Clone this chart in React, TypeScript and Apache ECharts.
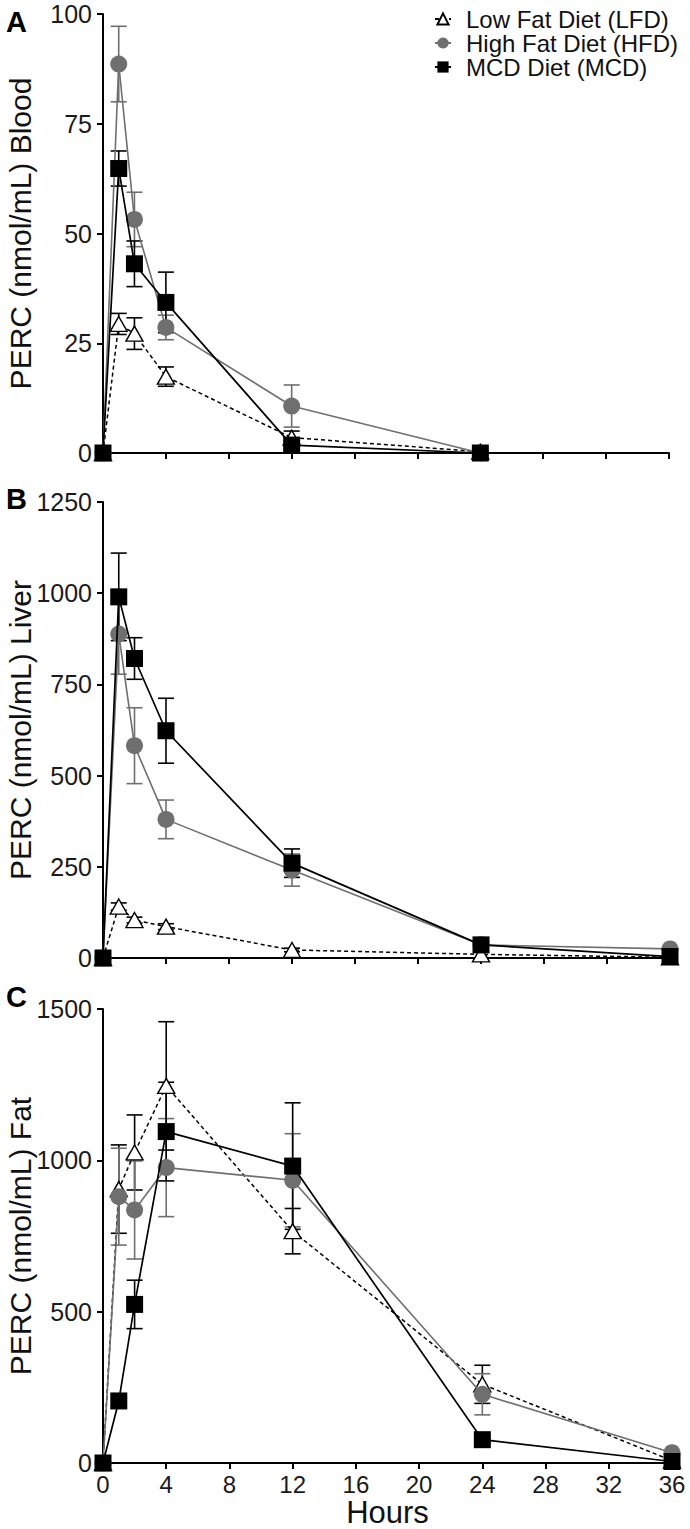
import React, { useEffect, useRef } from "react";
import * as echarts from "echarts";

const HOURS_BLOOD = [0, 1, 2, 4, 12, 24];
const HOURS = [0, 1, 2, 4, 12, 24, 36];

const SERIES_NAMES = ["Low Fat Diet (LFD)", "High Fat Diet (HFD)", "MCD Diet (MCD)"];

// Panel A: Blood
const BLOOD_LFD = [0, 29.4, 27.2, 17.4, 3.5, 0.3];
const BLOOD_LFD_ERR = [0, 2.4, 3.6, 2.2, 1.5, 0];
const BLOOD_HFD = [0, 88.6, 53.2, 28.6, 10.7, 0];
const BLOOD_HFD_ERR = [0, 8.6, 6.2, 2.8, 4.8, 0];
const BLOOD_MCD = [0, 64.8, 43.1, 34.3, 1.8, 0];
const BLOOD_MCD_ERR = [0, 4.0, 5.2, 6.9, 1.0, 0];

// Panel B: Liver
const LIVER_LFD = [0, 141, 104, 86, 22, 10, 2];
const LIVER_LFD_ERR = [0, 10, 8, 8, 5, 0, 0];
const LIVER_HFD = [0, 888, 582, 380, 241, 36, 25];
const LIVER_HFD_ERR = [0, 110, 104, 53, 44, 5, 0];
const LIVER_MCD = [0, 990, 821, 623, 260, 36, 4];
const LIVER_MCD_ERR = [0, 120, 57, 89, 39, 5, 0];

// Panel C: Fat
const FAT_LFD = [0, 905, 1026, 1246, 766, 260, 8];
const FAT_LFD_ERR = [0, 146, 124, 212, 75, 63, 0];
const FAT_HFD = [0, 880, 836, 976, 934, 227, 34];
const FAT_HFD_ERR = [0, 160, 162, 162, 154, 68, 0];
const FAT_MCD = [0, 205, 524, 1095, 981, 77, 5];
const FAT_MCD_ERR = [0, 20, 80, 163, 209, 10, 0];

const FONT = "'Liberation Sans', Arial, Helvetica, sans-serif";
const GRAY = "#6f6f6f";
const BLACK = "#000000";

function pairs(xs: number[], ys: number[]) {
  return xs.map((x, i) => [x, ys[i]]);
}

function errData(xs: number[], ys: number[], es: number[]) {
  const out: number[][] = [];
  xs.forEach((x, i) => {
    if (es[i] > 0) out.push([x, ys[i] - es[i], ys[i] + es[i]]);
  });
  return out;
}

function errSeries(idx: number, xs: number[], ys: number[], es: number[], color: string) {
  return {
    type: "custom",
    xAxisIndex: idx,
    yAxisIndex: idx,
    z: 1,
    silent: true,
    data: errData(xs, ys, es),
    encode: { x: 0, y: [1, 2] },
    renderItem: (params: any, api: any) => {
      const x = api.value(0);
      const lo = api.coord([x, api.value(1)]);
      const hi = api.coord([x, api.value(2)]);
      const cw = 8;
      const style = { stroke: color, lineWidth: 1.6 };
      return {
        type: "group",
        children: [
          { type: "line", shape: { x1: lo[0], y1: lo[1], x2: hi[0], y2: hi[1] }, style },
          { type: "line", shape: { x1: lo[0] - cw, y1: lo[1], x2: lo[0] + cw, y2: lo[1] }, style },
          { type: "line", shape: { x1: hi[0] - cw, y1: hi[1], x2: hi[0] + cw, y2: hi[1] }, style },
        ],
      };
    },
  };
}

function lineSeries(idx: number, kind: number, xs: number[], ys: number[]) {
  const base: any = {
    type: "line",
    name: SERIES_NAMES[kind],
    xAxisIndex: idx,
    yAxisIndex: idx,
    data: pairs(xs, ys),
    z: 2 + kind,
    showSymbol: true,
  };
  if (kind === 0) {
    base.symbol = "triangle";
    base.symbolSize = [17, 15];
    base.itemStyle = { color: "#ffffff", borderColor: BLACK, borderWidth: 1.4 };
    base.lineStyle = { color: BLACK, width: 1.5, type: [4, 3] };
  } else if (kind === 1) {
    base.symbol = "circle";
    base.symbolSize = 17;
    base.itemStyle = { color: GRAY, borderColor: GRAY, borderWidth: 0 };
    base.lineStyle = { color: GRAY, width: 1.6 };
  } else {
    base.symbol = "rect";
    base.symbolSize = 17;
    base.itemStyle = { color: BLACK, borderColor: BLACK, borderWidth: 0 };
    base.lineStyle = { color: BLACK, width: 1.7 };
  }
  return base;
}

const GRIDS = [
  { left: 103, width: 566, top: 14, height: 439 },
  { left: 103, width: 567, top: 502, height: 456 },
  { left: 103, width: 569, top: 1009, height: 454 },
];

export default function App() {
  const ref = useRef<HTMLDivElement>(null);

  useEffect(() => {
    if (!ref.current) return;
    const chart = echarts.init(ref.current, null, { renderer: "svg" });

    const axisLine = { show: true, onZero: false, lineStyle: { color: BLACK, width: 2 } };
    const axisTick = { show: true, inside: false, length: 6, lineStyle: { color: BLACK, width: 2 } };
    const yLabel = {
      fontSize: 25,
      color: "#1a1a1a",
      fontFamily: FONT,
      margin: 11,
      formatter: (v: number) => String(v),
    };

    const xAxes = [0, 1, 2].map((i) => ({
      type: "value",
      gridIndex: i,
      min: 0,
      max: 36,
      interval: 4,
      axisLine,
      axisTick,
      splitLine: { show: false },
      axisLabel:
        i === 2
          ? { show: true, fontSize: 24, color: "#1a1a1a", fontFamily: FONT, margin: 9 }
          : { show: false },
      name: i === 2 ? "Hours" : "",
      nameLocation: "middle",
      nameGap: 34,
      nameMoveOverlap: false,
      nameTextStyle: { fontSize: 31, color: "#111", fontFamily: FONT },
    }));

    const yNames = ["PERC (nmol/mL) Blood", "PERC (nmol/mL) Liver", "PERC (nmol/mL) Fat"];
    const yMax = [100, 1250, 1500];
    const yInt = [25, 250, 500];
    const yAxes = [0, 1, 2].map((i) => ({
      type: "value",
      gridIndex: i,
      min: 0,
      max: yMax[i],
      interval: yInt[i],
      axisLine,
      axisTick,
      splitLine: { show: false },
      axisLabel: yLabel,
      name: yNames[i],
      nameLocation: "middle",
      nameRotate: 90,
      nameGap: 68,
      nameMoveOverlap: false,
      nameTextStyle: { fontSize: 30, color: "#111", fontFamily: FONT },
    }));

    const series: any[] = [
      errSeries(0, HOURS_BLOOD, BLOOD_LFD, BLOOD_LFD_ERR, BLACK),
      errSeries(0, HOURS_BLOOD, BLOOD_HFD, BLOOD_HFD_ERR, GRAY),
      errSeries(0, HOURS_BLOOD, BLOOD_MCD, BLOOD_MCD_ERR, BLACK),
      errSeries(1, HOURS, LIVER_LFD, LIVER_LFD_ERR, BLACK),
      errSeries(1, HOURS, LIVER_HFD, LIVER_HFD_ERR, GRAY),
      errSeries(1, HOURS, LIVER_MCD, LIVER_MCD_ERR, BLACK),
      errSeries(2, HOURS, FAT_LFD, FAT_LFD_ERR, BLACK),
      errSeries(2, HOURS, FAT_HFD, FAT_HFD_ERR, GRAY),
      errSeries(2, HOURS, FAT_MCD, FAT_MCD_ERR, BLACK),
      lineSeries(0, 0, HOURS_BLOOD, BLOOD_LFD),
      lineSeries(0, 1, HOURS_BLOOD, BLOOD_HFD),
      lineSeries(0, 2, HOURS_BLOOD, BLOOD_MCD),
      lineSeries(1, 0, HOURS, LIVER_LFD),
      lineSeries(1, 1, HOURS, LIVER_HFD),
      lineSeries(1, 2, HOURS, LIVER_MCD),
      lineSeries(2, 0, HOURS, FAT_LFD),
      lineSeries(2, 1, HOURS, FAT_HFD),
      lineSeries(2, 2, HOURS, FAT_MCD),
    ];

    const panelLetters = ["A", "B", "C"];
    const panelTops = [7, 484, 982];

    chart.setOption({
      animation: false,
      backgroundColor: "#ffffff",
      grid: GRIDS.map((g) => ({ ...g, containLabel: false, outerBoundsMode: "none" })),
      xAxis: xAxes,
      yAxis: yAxes,
      legend: {
        show: true,
        orient: "vertical",
        left: 434,
        top: 7,
        padding: 0,
        itemWidth: 16,
        itemHeight: 14,
        itemGap: 0,
        data: SERIES_NAMES,
        textStyle: {
          fontSize: 24,
          lineHeight: 24,
          color: "#111",
          fontFamily: FONT,
          padding: [0, 0, 0, 10],
        },
      },
      graphic: panelLetters.map((t, i) => ({
        type: "text",
        left: 6,
        top: panelTops[i],
        style: { text: t, fontSize: 29, fontWeight: "bold", fill: BLACK, fontFamily: FONT },
      })),
      series,
    });

    return () => chart.dispose();
  }, []);

  return (
    <div
      ref={ref}
      style={{ position: "absolute", left: 0, top: 0, width: 690, height: 1529, background: "#fff" }}
    />
  );
}
